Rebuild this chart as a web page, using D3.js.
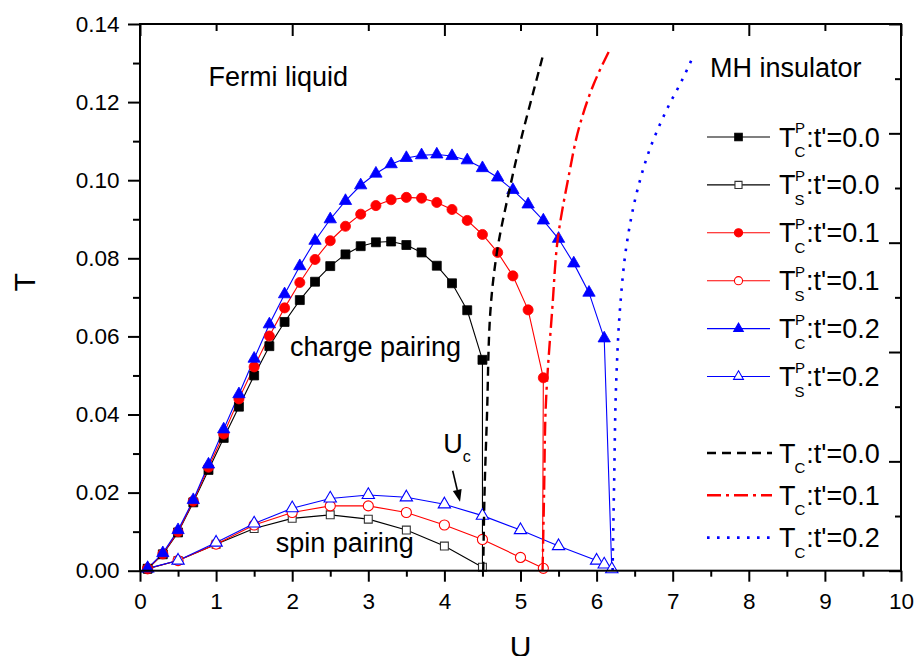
<!DOCTYPE html>
<html><head><meta charset="utf-8">
<script src="https://cdn.jsdelivr.net/npm/d3@7"></script>
<style>
body{margin:0;background:#fff}
svg{display:block}
text{font-family:"Liberation Sans",Arial,Helvetica,sans-serif;fill:#000}
</style>
</head><body><svg id="c" width="915" height="656"></svg>
<script>
// ---------- data ----------
const uTC0 = [0.1,0.3,0.5,0.7,0.9,1.1,1.3,1.5,1.7,1.9,2.1,2.3,2.5,2.7,2.9,3.1,3.3,3.5,3.7,3.9,4.1,4.3,4.5];
const tTC0 = [0.0005,0.0042,0.0098,0.0175,0.0258,0.0340,0.0420,0.0500,0.0575,0.0637,0.0693,0.0740,0.0780,0.0810,0.0831,0.0841,0.0843,0.0834,0.0815,0.0781,0.0736,0.0667,0.0540];
const uTC1 = [0.1,0.3,0.5,0.7,0.9,1.1,1.3,1.5,1.7,1.9,2.1,2.3,2.5,2.7,2.9,3.1,3.3,3.5,3.7,3.9,4.1,4.3,4.5,4.7,4.9,5.1,5.3];
const tTC1 = [0.0005,0.0043,0.0100,0.0178,0.0265,0.0350,0.0440,0.0522,0.0601,0.0673,0.0738,0.0797,0.0845,0.0882,0.0913,0.0935,0.0950,0.0956,0.0954,0.0943,0.0925,0.0897,0.0861,0.0815,0.0755,0.0668,0.0494];
const uTC2 = [0.1,0.3,0.5,0.7,0.9,1.1,1.3,1.5,1.7,1.9,2.1,2.3,2.5,2.7,2.9,3.1,3.3,3.5,3.7,3.9,4.1,4.3,4.5,4.7,4.9,5.1,5.3,5.5,5.7,5.9,6.1];
const tTC2 = [0.0006,0.0045,0.0104,0.0181,0.0272,0.0362,0.0452,0.0543,0.0631,0.0708,0.0780,0.0845,0.0900,0.0947,0.0987,0.1017,0.1041,0.1057,0.1064,0.1066,0.1062,0.1051,0.1031,0.1007,0.0975,0.0938,0.0897,0.0850,0.0787,0.0712,0.0595];
const uTCdrop = [4.50, 5.29, 6.20];   // U where each T_C^P curve drops to zero

const uTS0 = [0.1,0.5,1.0,1.5,2.0,2.5,3.0,3.5,4.0,4.5];
const tTS0 = [0.0005,0.0026,0.0068,0.0108,0.0134,0.0143,0.0132,0.0104,0.0063,0.0009];
const uTS1 = [0.1,0.5,1.0,1.5,2.0,2.5,3.0,3.5,4.0,4.5,5.0,5.3];
const tTS1 = [0.0005,0.0026,0.0068,0.0117,0.0149,0.0166,0.0166,0.0149,0.0117,0.0080,0.0034,0.0006];
const uTS2 = [0.1,0.5,1.0,1.5,2.0,2.5,3.0,3.5,4.0,4.5,5.0,5.5,6.0,6.1,6.2];
const tTS2 = [0.0006,0.0026,0.0072,0.0121,0.0160,0.0185,0.0194,0.0188,0.0170,0.0141,0.0104,0.0063,0.0026,0.0016,0.0004];

const uTcL0 = [4.51,4.53,4.56,4.60,4.69,4.86,5.00,5.17,5.30];
const tTcL0 = [0.0,0.022,0.040,0.0652,0.0815,0.098,0.1099,0.1227,0.1323];
const uTcL1 = [5.29,5.31,5.33,5.42,5.49,5.63,5.77,5.96,6.18];
const tTcL1 = [0.0,0.020,0.041,0.0677,0.085,0.1007,0.1135,0.1245,0.1337];
const uTcL2 = [6.21,6.23,6.26,6.31,6.40,6.53,6.70,6.92,7.14,7.27];
const tTcL2 = [0.0,0.022,0.0494,0.0677,0.0842,0.097,0.108,0.118,0.1263,0.1318];

const xTicks = [0,1,2,3,4,5,6,7,8,9,10];
const yTicks = [0,0.02,0.04,0.06,0.08,0.10,0.12,0.14];
const legendT = ["0.0","0.0","0.1","0.1","0.2","0.2"];
const legendTc = ["0.0","0.1","0.2"];

// ---------- layout ----------
const W = 915, H = 656;
const L = 140, R = 901, T0 = 24, B = 570.7;
const svg = d3.select("#c");
const x = d3.scaleLinear().domain([0,10]).range([L,R]);
const y = d3.scaleLinear().domain([0,0.14]).range([B,T0]);
const font = '"Liberation Sans",Arial,Helvetica,sans-serif';

const zip = (u,t) => u.map((d,i)=>[d,t[i]]);
const line = d3.line().x(d=>x(d[0])).y(d=>y(d[1]));
const smooth = d3.line().x(d=>x(d[0])).y(d=>y(d[1])).curve(d3.curveMonotoneY);

const BL="#000", RD="#ff0000", BU="#0000ff", GR="#333";

const tcSeries = [
  {u:uTC0,t:tTC0,drop:uTCdrop[0],c:BL,sym:d3.symbolSquare,size:80,lsize:56},
  {u:uTC1,t:tTC1,drop:uTCdrop[1],c:RD,sym:d3.symbolCircle,size:80,lsize:52},
  {u:uTC2,t:tTC2,drop:uTCdrop[2],c:BU,sym:d3.symbolTriangle,size:66,lsize:40}
];
const tsSeries = [
  {u:uTS0,t:tTS0,c:BL,mc:GR,sym:d3.symbolSquare,size:62,lsize:50},
  {u:uTS1,t:tTS1,c:RD,mc:RD,sym:d3.symbolCircle,size:80,lsize:52},
  {u:uTS2,t:tTS2,c:BU,mc:BU,sym:d3.symbolTriangle,size:66,lsize:42}
];
const tcLines = [
  {u:uTcL0,t:tTcL0,c:BL,dash:"9,6",w:2.4},
  {u:uTcL1,t:tTcL1,c:RD,dash:"14,5,3,5",w:2.4},
  {u:uTcL2,t:tTcL2,c:BU,dash:"2.6,7.4",w:2.6}
];

const plot = svg.append("g");

// spin-pairing curves
tsSeries.forEach(s=>{
  plot.append("path").attr("d",line(zip(s.u,s.t))).attr("fill","none")
    .attr("stroke",s.c).attr("stroke-width",1.1);
});
// charge-pairing curves
tcSeries.forEach(s=>{
  const pts = zip(s.u,s.t).concat([[s.drop,0]]);
  plot.append("path").attr("d",line(pts)).attr("fill","none")
    .attr("stroke",s.c).attr("stroke-width",1.1);
});
// markers
tsSeries.forEach(s=>{
  plot.selectAll(null).data(zip(s.u,s.t)).enter().append("path")
    .attr("transform",d=>`translate(${x(d[0])},${y(d[1])})`)
    .attr("d",d3.symbol().type(s.sym).size(s.size))
    .attr("fill","#fff").attr("stroke",s.mc).attr("stroke-width",1.1);
});
tcSeries.forEach(s=>{
  plot.selectAll(null).data(zip(s.u,s.t)).enter().append("path")
    .attr("transform",d=>`translate(${x(d[0])},${y(d[1])})`)
    .attr("d",d3.symbol().type(s.sym).size(s.size))
    .attr("fill",s.c).attr("stroke",s.c).attr("stroke-width",0.8);
});
// T_C lines
tcLines.forEach(s=>{
  plot.append("path").attr("d",smooth(zip(s.u,s.t))).attr("fill","none")
    .attr("stroke",s.c).attr("stroke-width",s.w).attr("stroke-dasharray",s.dash);
});

// ---------- axes ----------
const fmtX = d3.format("d"), fmtY = d3.format(".2f");
const ax = svg.append("g").attr("font-family",font);

ax.append("g").attr("transform",`translate(0,${B})`)
  .call(d3.axisBottom(x).tickValues(xTicks).tickFormat(fmtX).tickSize(11).tickPadding(11));
ax.append("g").attr("transform",`translate(0,${B})`)
  .call(d3.axisBottom(x).tickValues(d3.range(0.5,10,1)).tickFormat("").tickSize(6));
ax.append("g").attr("transform",`translate(${L},0)`)
  .call(d3.axisLeft(y).tickValues(yTicks).tickFormat(fmtY).tickSize(12).tickPadding(8.5));
ax.append("g").attr("transform",`translate(${L},0)`)
  .call(d3.axisLeft(y).tickValues(d3.range(0.01,0.14,0.02)).tickFormat("").tickSize(7));
// top axis: ticks pointing inward
ax.append("g").attr("transform",`translate(0,${T0})`)
  .call(d3.axisBottom(x).tickValues(xTicks.filter(d=>d%2===0)).tickFormat("").tickSize(12));
ax.append("g").attr("transform",`translate(0,${T0})`)
  .call(d3.axisBottom(x).tickValues(xTicks.filter(d=>d%2===1)).tickFormat("").tickSize(7));
// right axis: 10 even subdivisions, pointing inward
const yr = d3.scaleLinear().domain([0,10]).range([B,T0]);
ax.append("g").attr("transform",`translate(${R},0)`)
  .call(d3.axisLeft(yr).tickValues([0,2,4,6,8,10]).tickFormat("").tickSize(12));
ax.append("g").attr("transform",`translate(${R},0)`)
  .call(d3.axisLeft(yr).tickValues([1,3,5,7,9]).tickFormat("").tickSize(6));

ax.selectAll(".domain").remove();
ax.selectAll(".tick line").attr("stroke","#000").attr("stroke-width",2);
ax.selectAll(".tick text").attr("font-size",22.5).attr("fill","#000").attr("font-family",font);

// frame
svg.append("rect").attr("x",L).attr("y",T0).attr("width",R-L).attr("height",B-T0)
  .attr("fill","none").attr("stroke","#000").attr("stroke-width",2);

// axis titles
svg.append("text").attr("transform",`translate(35,${(T0+B)/2-15}) rotate(-90)`)
  .attr("text-anchor","middle").attr("font-size",30).text("T");
svg.append("text").attr("x",(L+R)/2).attr("y",656.5).attr("text-anchor","middle")
  .attr("font-size",30).text("U");

// ---------- annotations ----------
const ann = svg.append("g");
ann.append("text").attr("x",x(0.90)).attr("y",y(0.1241)).attr("font-size",27).text("Fermi liquid");
ann.append("text").attr("x",x(7.49)).attr("y",y(0.1264)).attr("font-size",27).text("MH insulator");
ann.append("text").attr("x",x(1.97)).attr("y",y(0.0550)).attr("font-size",27).text("charge pairing");
ann.append("text").attr("x",x(1.783)).attr("y",y(0.00486)).attr("font-size",27).text("spin pairing");
ann.append("text").attr("x",x(3.986)).attr("y",y(0.0302)).attr("font-size",27).text("U");
ann.append("text").attr("x",x(4.24)).attr("y",y(0.0279)).attr("font-size",16).text("c");
// arrow
const a0=[x(4.109),y(0.0256)], a1=[x(4.205),y(0.01766)];
const ang=Math.atan2(a1[1]-a0[1],a1[0]-a0[0]);
const hl=12, hw=4.5;
const base=[a1[0]-hl*Math.cos(ang),a1[1]-hl*Math.sin(ang)];
ann.append("line").attr("x1",a0[0]).attr("y1",a0[1]).attr("x2",base[0]).attr("y2",base[1])
  .attr("stroke","#000").attr("stroke-width",1.6);
ann.append("path").attr("d",`M${a1[0]},${a1[1]}L${base[0]-hw*Math.sin(ang)},${base[1]+hw*Math.cos(ang)}L${base[0]+hw*Math.sin(ang)},${base[1]-hw*Math.cos(ang)}Z`)
  .attr("fill","#000");

// ---------- legend ----------
const lg = svg.append("g");
const lx0=707, lx1=770, lmx=738.5, tx=779;
function label(g, yy, sub, sup, val){
  const t = g.append("text").attr("x",tx).attr("y",yy+9.5).attr("font-size",27).text("T");
  const wT = t.node().getComputedTextLength();
  const sx = tx + wT - 1;
  const s1 = g.append("text").attr("x",sx).attr("y",yy+20).attr("font-size",15).text(sub);
  let w = s1.node().getComputedTextLength();
  if(sup){
    const s2 = g.append("text").attr("x",sx+0.5).attr("y",yy-4).attr("font-size",15).text(sup);
    w = Math.max(w, s2.node().getComputedTextLength()+0.5);
  }
  g.append("text").attr("x",sx+w+1).attr("y",yy+9.5).attr("font-size",27).text(":t'="+val);
}
const rows1 = [
  {s:tcSeries[0],open:false,sub:"C"},{s:tsSeries[0],open:true,sub:"S"},
  {s:tcSeries[1],open:false,sub:"C"},{s:tsSeries[1],open:true,sub:"S"},
  {s:tcSeries[2],open:false,sub:"C"},{s:tsSeries[2],open:true,sub:"S"}
];
rows1.forEach((r,i)=>{
  const yy = 137 + i*47.9;
  lg.append("line").attr("x1",lx0).attr("x2",lx1).attr("y1",yy).attr("y2",yy)
    .attr("stroke",r.s.c).attr("stroke-width",1.1);
  lg.append("path").attr("transform",`translate(${lmx},${yy})`)
    .attr("d",d3.symbol().type(r.s.sym).size(r.s.lsize))
    .attr("fill",r.open?"#fff":r.s.c).attr("stroke",r.open?r.s.mc:r.s.c).attr("stroke-width",1.1);
  label(lg, yy, r.sub, "P", legendT[i]);
});
tcLines.forEach((s,i)=>{
  const yy = 453 + i*42.3;
  lg.append("line").attr("x1",lx0).attr("x2",lx1+2).attr("y1",yy).attr("y2",yy)
    .attr("stroke",s.c).attr("stroke-width",s.w).attr("stroke-dasharray",s.dash);
  label(lg, yy, "C", null, legendTc[i]);
});
</script>
</body></html>
